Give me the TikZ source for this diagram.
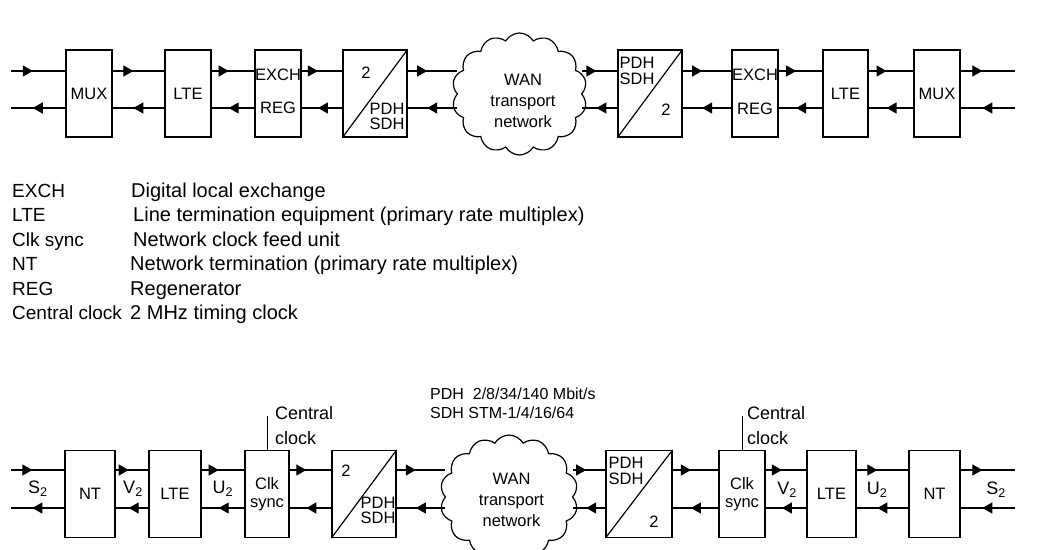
\documentclass[tikz,border=0pt]{standalone}
\usepackage{fontspec}
\setmainfont{Liberation Sans}
\usepackage{tikz}
\usetikzlibrary{arrows.meta}
\usetikzlibrary{shapes.symbols}
\usetikzlibrary{decorations.markings}

\tikzset{
  blk/.style={draw,line width=1.2pt,minimum height=87pt,inner sep=0pt,font=\fontsize{16.5}{18}\selectfont},
  lbl/.style={inner sep=0pt,align=center,font=\fontsize{16.5}{15.5}\selectfont},
  wan/.style={cloud,cloud puffs=14,cloud puff arc=120,draw,line width=1.2pt,inner sep=0pt},
  wantxt/.style={inner sep=0pt,align=center,font=\fontsize{16.5}{21}\selectfont},
  sig/.style={line width=1.2pt},
  fwd/.style={sig,decoration={markings,mark=at position #1 with {\arrow{Triangle[length=10pt,width=11pt]}}},postaction={decorate}},
  fwd/.default=0.4,
  key/.style={inner sep=0pt,anchor=base west,font=\fontsize{19}{22}\selectfont},
  leg/.style={inner sep=0pt,anchor=base west,font=\fontsize{20}{22}\selectfont},
  ifc/.style={inner sep=0pt,font=\fontsize{18}{20}\selectfont},
  note/.style={inner sep=0pt,anchor=base west,font=\fontsize{18}{22}\selectfont},
  rate/.style={inner sep=0pt,anchor=base west,font=\fontsize{16}{19}\selectfont},
}

\begin{document}
\begin{tikzpicture}[x=1pt,y=-1pt]
\useasboundingbox (0,0) rectangle (1044,549);

% upper chain: exchange to exchange
\coordinate (tu) at (0,71);
\coordinate (tl) at (0,108);
\coordinate (west1u) at (11,71);
\coordinate (west1l) at (11,108);
\coordinate (east1u) at (1015,71);
\coordinate (east1l) at (1015,108);
\node[blk,minimum width=46pt] (mux1) at (89,93.5) {MUX};
\node[blk,minimum width=46pt] (lte1) at (188,93.5) {LTE};
\node[blk,minimum width=46pt] (exch1) at (278,93.5) {};
\node[lbl] (exch1a) at (278,75) {EXCH};
\node[lbl] (exch1b) at (278,108) {REG};
\node[blk,minimum width=64pt] (cvt1) at (375,93.5) {};
\draw[sig] (cvt1.south west) -- (cvt1.north east);
\node[lbl] (cvt1a) at (366,73) {2};
\node[lbl] (cvt1b) at (387,116.5) {PDH\\SDH};
\node[wan,minimum width=135pt,minimum height=122pt] (wan1) at (519.5,94) {};
\node[wantxt] (wan1t) at (523,101) {WAN\\transport\\network};
\node[blk,minimum width=64pt] (cvt2) at (650,93.5) {};
\draw[sig] (cvt2.south west) -- (cvt2.north east);
\node[lbl] (cvt2a) at (637,71) {PDH\\SDH};
\node[lbl] (cvt2b) at (666,110) {2};
\node[blk,minimum width=46pt] (exch2) at (755,93.5) {};
\node[lbl] (exch2a) at (755,75) {EXCH};
\node[lbl] (exch2b) at (755,109) {REG};
\node[blk,minimum width=45pt] (lte2) at (845.5,93.5) {LTE};
\node[blk,minimum width=46pt] (mux2) at (937,93.5) {MUX};

\draw[fwd] (west1u) -- (mux1.west |- tu);
\draw[fwd] (mux1.east |- tu) -- (lte1.west |- tu);
\draw[fwd] (lte1.east |- tu) -- (exch1.west |- tu);
\draw[fwd] (exch1.east |- tu) -- (cvt1.west |- tu);
\draw[fwd] (cvt1.east |- tu) -- (wan1.west |- tu);
\draw[fwd] (wan1.east |- tu) -- (cvt2.west |- tu);
\draw[fwd] (cvt2.east |- tu) -- (exch2.west |- tu);
\draw[fwd] (exch2.east |- tu) -- (lte2.west |- tu);
\draw[fwd] (lte2.east |- tu) -- (mux2.west |- tu);
\draw[fwd] (mux2.east |- tu) -- (east1u);
\draw[fwd=0.6] (mux1.west |- tl) -- (west1l);
\draw[fwd=0.6] (lte1.west |- tl) -- (mux1.east |- tl);
\draw[fwd=0.6] (exch1.west |- tl) -- (lte1.east |- tl);
\draw[fwd=0.6] (cvt1.west |- tl) -- (exch1.east |- tl);
\draw[fwd=0.6] (wan1.west |- tl) -- (cvt1.east |- tl);
\draw[fwd=0.6] (cvt2.west |- tl) -- (wan1.east |- tl);
\draw[fwd=0.6] (exch2.west |- tl) -- (cvt2.east |- tl);
\draw[fwd=0.6] (lte2.west |- tl) -- (exch2.east |- tl);
\draw[fwd=0.6] (mux2.west |- tl) -- (lte2.east |- tl);
\draw[fwd=0.6] (east1l) -- (mux2.east |- tl);

% legend
\node[key] (k1) at (12,197) {EXCH};
\node[key] (k2) at (12,221.5) {LTE};
\node[key] (k3) at (12,246) {Clk sync};
\node[key] (k4) at (12,270.5) {NT};
\node[key] (k5) at (12,295) {REG};
\node[key] (k6) at (12,319.5) {Central clock};
\node[leg] (d1) at (131,197) {Digital local exchange};
\node[leg] (d2) at (133,221.5) {Line termination equipment (primary rate multiplex)};
\node[leg] (d3) at (133,246) {Network clock feed unit};
\node[leg] (d4) at (130,270.5) {Network termination (primary rate multiplex)};
\node[leg] (d5) at (130,295) {Regenerator};
\node[leg] (d6) at (130,319.5) {2 MHz timing clock};

% lower chain: subscriber to subscriber
\coordinate (bu) at (0,470);
\coordinate (bl) at (0,508);
\coordinate (west2u) at (11,470);
\coordinate (west2l) at (11,508);
\coordinate (east2u) at (1015,470);
\coordinate (east2l) at (1015,508);
\node[blk,minimum width=50pt] (nt1) at (90,494) {NT};
\node[blk,minimum width=52pt] (lte3) at (175,494) {LTE};
\node[blk,minimum width=44pt,align=center] (clk1) at (267,494) {Clk\\sync};
\node[blk,minimum width=64pt] (cvt3) at (364,494) {};
\draw[sig] (cvt3.south west) -- (cvt3.north east);
\node[lbl] (cvt3a) at (346,471) {2};
\node[lbl] (cvt3b) at (378,510.5) {PDH\\SDH};
\node[wan,minimum width=138pt,minimum height=124pt] (wan2) at (509,497) {};
\node[wantxt] (wan2t) at (511.5,500) {WAN\\transport\\network};
\node[blk,minimum width=66pt] (cvt4) at (639,494) {};
\draw[sig] (cvt4.south west) -- (cvt4.north east);
\node[lbl] (cvt4a) at (626,471) {PDH\\SDH};
\node[lbl] (cvt4b) at (654,522) {2};
\node[blk,minimum width=46pt,align=center] (clk2) at (742,494) {Clk\\sync};
\node[blk,minimum width=49pt] (lte4) at (831.5,494) {LTE};
\node[blk,minimum width=51pt] (nt2) at (934.5,494) {NT};

\draw[fwd] (west2u) -- (nt1.west |- bu);
\draw[fwd] (nt1.east |- bu) -- (lte3.west |- bu);
\draw[fwd] (lte3.east |- bu) -- (clk1.west |- bu);
\draw[fwd] (clk1.east |- bu) -- (cvt3.west |- bu);
\draw[fwd] (cvt3.east |- bu) -- (wan2.west |- bu);
\draw[fwd] (wan2.east |- bu) -- (cvt4.west |- bu);
\draw[fwd] (cvt4.east |- bu) -- (clk2.west |- bu);
\draw[fwd] (clk2.east |- bu) -- (lte4.west |- bu);
\draw[fwd] (lte4.east |- bu) -- (nt2.west |- bu);
\draw[fwd] (nt2.east |- bu) -- (east2u);
\draw[fwd=0.6] (nt1.west |- bl) -- (west2l);
\draw[fwd=0.6] (lte3.west |- bl) -- (nt1.east |- bl);
\draw[fwd=0.6] (clk1.west |- bl) -- (lte3.east |- bl);
\draw[fwd=0.6] (cvt3.west |- bl) -- (clk1.east |- bl);
\draw[fwd=0.6] (wan2.west |- bl) -- (cvt3.east |- bl);
\draw[fwd=0.6] (cvt4.west |- bl) -- (wan2.east |- bl);
\draw[fwd=0.6] (clk2.west |- bl) -- (cvt4.east |- bl);
\draw[fwd=0.6] (lte4.west |- bl) -- (clk2.east |- bl);
\draw[fwd=0.6] (nt2.west |- bl) -- (lte4.east |- bl);
\draw[fwd=0.6] (east2l) -- (nt2.east |- bl);

% interface points
\node[ifc] (s1) at (38,489) {S\textsubscript{2}};
\node[ifc] (v1) at (133,489) {V\textsubscript{2}};
\node[ifc] (u1) at (223,489) {U\textsubscript{2}};
\node[ifc] (v2) at (787,490) {V\textsubscript{2}};
\node[ifc] (u2) at (877,490) {U\textsubscript{2}};
\node[ifc] (s2) at (996,490) {S\textsubscript{2}};

% clock feeds and rates
\node[note] (cen1) at (275,419) {Central};
\node[note] (ck1) at (275,444) {clock};
\node[note] (cen2) at (747,419) {Central};
\node[note] (ck2) at (747,444) {clock};
\draw[line width=1pt,shorten >=-3pt] (clk1.north) -- (clk1.north |- cen1.south);
\draw[line width=1pt,shorten >=-3pt] (clk2.north) -- (clk2.north |- cen2.south);
\node[rate] (pdh) at (430,399) {PDH\ \ 2/8/34/140 Mbit/s};
\node[rate] (sdh) at (430,418) {SDH STM-1/4/16/64};
\end{tikzpicture}
\end{document}
